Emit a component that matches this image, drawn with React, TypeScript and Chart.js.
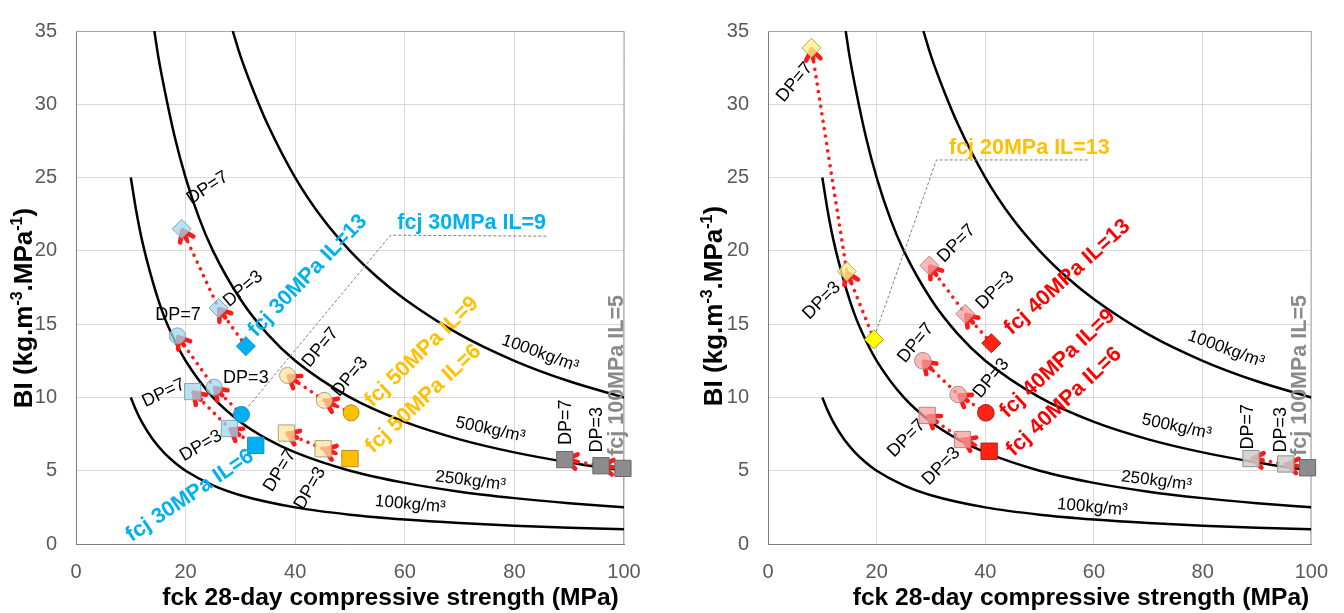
import React, { useEffect, useRef } from "react";
import { Chart, registerables } from "chart.js";

Chart.register(...registerables);

const FONT = '"Liberation Sans", Arial, Helvetica, sans-serif';

// ---------- axes ----------
const xTickValues = [0, 20, 40, 60, 80, 100];
const yTickValues = [0, 5, 10, 15, 20, 25, 30, 35];
const xTitle = "fck 28-day compressive strength (MPa)";

// ---------- iso-density curves (BI vs fck) ----------
const densityLabels = ["1000kg/m³", "500kg/m³", "250kg/m³", "100kg/m³"];
const iso1000X = [28.6, 30, 32.5, 35, 40, 45, 50, 55, 60, 70, 80, 90, 100];
const iso1000Y = [35, 33.3, 30.8, 28.6, 25, 22.2, 20, 18.2, 16.7, 14.3, 12.5, 11.1, 10];
const iso500X = [14.3, 15, 16, 18, 20, 22.5, 25, 30, 35, 40, 50, 60, 70, 80, 90, 100];
const iso500Y = [35, 33.3, 31.3, 27.8, 25, 22.2, 20, 16.7, 14.3, 12.5, 10, 8.33, 7.14, 6.25, 5.56, 5];
const iso250X = [10, 11, 12, 14, 16, 18, 20, 25, 30, 35, 40, 50, 60, 70, 80, 90, 100];
const iso250Y = [25, 22.7, 20.8, 17.9, 15.6, 13.9, 12.5, 10, 8.33, 7.14, 6.25, 5, 4.17, 3.57, 3.13, 2.78, 2.5];
const iso100X = [10, 11, 12, 14, 16, 18, 20, 25, 30, 40, 50, 60, 70, 80, 90, 100];
const iso100Y = [10, 9.09, 8.33, 7.14, 6.25, 5.56, 5, 4, 3.33, 2.5, 2, 1.67, 1.43, 1.25, 1.11, 1];

// ---------- left panel series: [base, DP=3, DP=7] ----------
const L30_IL13_X = [31.0, 26.0, 19.3];
const L30_IL13_Y = [13.5, 16.1, 21.5];
const L30_IL9_X = [30.2, 25.2, 18.5];
const L30_IL9_Y = [8.84, 10.7, 14.2];
const L30_IL6_X = [32.8, 28.0, 21.3];
const L30_IL6_Y = [6.73, 7.88, 10.4];
const L50_IL9_X = [50.2, 45.3, 38.6];
const L50_IL9_Y = [8.95, 9.8, 11.5];
const L50_IL6_X = [50.0, 45.1, 38.4];
const L50_IL6_Y = [5.83, 6.5, 7.57];
const L100_IL5_X = [99.8, 95.8, 89.2];
const L100_IL5_Y = [5.16, 5.34, 5.76];

// ---------- right panel series: [base, DP=3, DP=7] ----------
const R20_IL13_X = [19.5, 14.5, 8.0];
const R20_IL13_Y = [13.96, 18.6, 33.85];
const R40_IL13_X = [41.1, 36.3, 29.7];
const R40_IL13_Y = [13.7, 15.7, 19.0];
const R40_IL9_X = [40.1, 35.0, 28.5];
const R40_IL9_Y = [8.95, 10.2, 12.5];
const R40_IL6_X = [40.7, 35.8, 29.3];
const R40_IL6_Y = [6.33, 7.13, 8.77];
const R100_IL5_X = [99.3, 95.3, 88.9];
const R100_IL5_Y = [5.2, 5.46, 5.83];

// ---------- styles ----------
const BLUE = "#00b0f0";
const YEL = "#ffc000";
const RED = "#ff0000";
const GRAY = "#8a8a8a";

type Group = {
  x: number[];
  y: number[];
  style: string;
  r: number;
  solid: string;
  solidBorder: string;
  light: string;
  lightBorder: string;
};

type Label = { t: string; x: number; y: number; r: number; color?: string; size?: number; bold?: boolean };

const blueD = { solid: BLUE, solidBorder: "#1590c0", light: "rgba(160,215,240,0.75)", lightBorder: "#8aa4b4" };
const yelD = { solid: YEL, solidBorder: "#b08a2a", light: "rgba(255,228,160,0.75)", lightBorder: "#b0a080" };
const redD = { solid: "#ff2314", solidBorder: "#c01010", light: "rgba(246,160,160,0.75)", lightBorder: "#b08888" };
const grayDark = { solid: "#8c8c8c", solidBorder: "#666666", light: "#8c8c8c", lightBorder: "#666666" };
const grayLight = { solid: "#8c8c8c", solidBorder: "#666666", light: "rgba(205,205,205,0.85)", lightBorder: "#909090" };
const yel20 = { solid: "#ffff00", solidBorder: "#a0a020", light: "rgba(255,240,140,0.8)", lightBorder: "#b0a860" };

const leftGroups: Group[] = [
  { x: L30_IL13_X, y: L30_IL13_Y, style: "rectRot", r: 9.5, ...blueD },
  { x: L30_IL9_X, y: L30_IL9_Y, style: "circle", r: 8, ...blueD },
  { x: L30_IL6_X, y: L30_IL6_Y, style: "rect", r: 11.5, ...blueD },
  { x: L50_IL9_X, y: L50_IL9_Y, style: "circle", r: 8, ...yelD },
  { x: L50_IL6_X, y: L50_IL6_Y, style: "rect", r: 11.5, ...yelD },
  { x: L100_IL5_X, y: L100_IL5_Y, style: "rect", r: 11.5, ...grayDark },
];

const rightGroups: Group[] = [
  { x: R20_IL13_X, y: R20_IL13_Y, style: "rectRot", r: 9.5, ...yel20 },
  { x: R40_IL13_X, y: R40_IL13_Y, style: "rectRot", r: 9.5, ...redD },
  { x: R40_IL9_X, y: R40_IL9_Y, style: "circle", r: 8.3, ...redD },
  { x: R40_IL6_X, y: R40_IL6_Y, style: "rect", r: 11.5, ...redD },
  { x: R100_IL5_X, y: R100_IL5_Y, style: "rect", r: 11.5, ...grayLight },
];

const leftLabels: Label[] = [
  { t: "DP=7", x: 24.0, y: 24.3, r: -33 },
  { t: "DP=3", x: 30.5, y: 17.4, r: -40 },
  { t: "DP=7", x: 18.6, y: 15.6, r: 0 },
  { t: "DP=3", x: 31.0, y: 11.3, r: 0 },
  { t: "DP=7", x: 16.0, y: 10.3, r: -25 },
  { t: "DP=3", x: 22.8, y: 6.7, r: -30 },
  { t: "DP=7", x: 44.6, y: 13.4, r: -50 },
  { t: "DP=3", x: 50.0, y: 11.4, r: -50 },
  { t: "DP=7", x: 37.2, y: 5.0, r: -58 },
  { t: "DP=3", x: 42.7, y: 3.8, r: -60 },
  { t: "DP=7", x: 89.5, y: 8.3, r: -90 },
  { t: "DP=3", x: 95.0, y: 7.8, r: -90 },
  { t: densityLabels[0], x: 84.7, y: 13.0, r: 20, size: 17 },
  { t: densityLabels[1], x: 75.6, y: 7.8, r: 12, size: 17 },
  { t: densityLabels[2], x: 72.0, y: 4.3, r: 7, size: 17 },
  { t: densityLabels[3], x: 61.0, y: 2.7, r: 5, size: 17 },
  { t: "fcj 30MPa IL=13", x: 42.3, y: 18.3, r: -46, color: BLUE, bold: true, size: 21.5 },
  { t: "fcj 30MPa IL=9", x: 72.2, y: 21.9, r: 0, color: BLUE, bold: true, size: 21.5 },
  { t: "fcj 30MPa IL=6", x: 20.8, y: 3.3, r: -34, color: BLUE, bold: true, size: 21.5 },
  { t: "fcj 50MPa IL=9", x: 63.1, y: 13.1, r: -44, color: YEL, bold: true, size: 21.5 },
  { t: "fcj 50MPa IL=6", x: 63.4, y: 9.9, r: -43, color: YEL, bold: true, size: 21.5 },
  { t: "fcj 100MPa IL=5", x: 98.7, y: 11.5, r: -90, color: GRAY, bold: true, size: 21.5 },
];

const rightLabels: Label[] = [
  { t: "DP=7", x: 4.9, y: 31.5, r: -50 },
  { t: "DP=3", x: 9.9, y: 16.6, r: -45 },
  { t: "DP=7", x: 34.7, y: 20.5, r: -45 },
  { t: "DP=3", x: 41.8, y: 17.3, r: -45 },
  { t: "DP=7", x: 27.2, y: 13.7, r: -50 },
  { t: "DP=3", x: 41.1, y: 11.3, r: -50 },
  { t: "DP=7", x: 25.5, y: 7.2, r: -45 },
  { t: "DP=3", x: 31.9, y: 5.3, r: -45 },
  { t: "DP=7", x: 88.3, y: 8.0, r: -90 },
  { t: "DP=3", x: 94.5, y: 7.8, r: -90 },
  { t: densityLabels[0], x: 84.3, y: 13.3, r: 20, size: 17 },
  { t: densityLabels[1], x: 75.2, y: 8.0, r: 12, size: 17 },
  { t: densityLabels[2], x: 71.5, y: 4.3, r: 7, size: 17 },
  { t: densityLabels[3], x: 59.7, y: 2.5, r: 5, size: 17 },
  { t: "fcj 20MPa IL=13", x: 48.1, y: 27.0, r: 0, color: YEL, bold: true, size: 21.5 },
  { t: "fcj 40MPa IL=13", x: 55.1, y: 18.2, r: -42, color: RED, bold: true, size: 21.5 },
  { t: "fcj 40MPa IL=9", x: 53.3, y: 12.3, r: -43, color: RED, bold: true, size: 21.5 },
  { t: "fcj 40MPa IL=6", x: 54.5, y: 9.7, r: -43, color: RED, bold: true, size: 21.5 },
  { t: "fcj 100MPa IL=5", x: 98.0, y: 11.5, r: -90, color: GRAY, bold: true, size: 21.5 },
];

const leftLeaderX = [31.5, 57.4, 86.0];
const leftLeaderY = [9.4, 21.07, 21.0];
const rightLeaderX = [19.9, 31.0, 59.1];
const rightLeaderY = [14.5, 26.2, 26.2];

// ---------- drawing helpers ----------
function drawArrows(chart: any, groups: Group[]) {
  const ctx: CanvasRenderingContext2D = chart.ctx;
  const xs = chart.scales.x;
  const ys = chart.scales.y;
  ctx.save();
  ctx.strokeStyle = "#ff1a1a";
  ctx.lineWidth = 4.6;
  ctx.lineCap = "round";
  ctx.lineJoin = "round";
  for (const g of groups) {
    for (let i = 1; i < g.x.length; i++) {
      const x0 = xs.getPixelForValue(g.x[i - 1]);
      const y0 = ys.getPixelForValue(g.y[i - 1]);
      const x1 = xs.getPixelForValue(g.x[i]);
      const y1 = ys.getPixelForValue(g.y[i]);
      let dx = x1 - x0;
      let dy = y1 - y0;
      const L = Math.hypot(dx, dy) || 1;
      dx /= L;
      dy /= L;
      const tx = x1 - dx * 1.5;
      const ty = y1 - dy * 1.5;
      const vx = -dx;
      const vy = -dy;
      const a = 0.62;
      const len = 12.5;
      const c = Math.cos(a);
      const s = Math.sin(a);
      const a1x = tx + (vx * c - vy * s) * len;
      const a1y = ty + (vx * s + vy * c) * len;
      const a2x = tx + (vx * c + vy * s) * len;
      const a2y = ty + (-vx * s + vy * c) * len;
      ctx.beginPath();
      ctx.moveTo(a1x, a1y);
      ctx.lineTo(tx, ty);
      ctx.lineTo(a2x, a2y);
      ctx.moveTo(tx, ty);
      ctx.lineTo(tx + vx * 10, ty + vy * 10);
      ctx.stroke();
    }
  }
  ctx.restore();
}

function drawLabels(chart: any, labels: Label[]) {
  const ctx: CanvasRenderingContext2D = chart.ctx;
  const xs = chart.scales.x;
  const ys = chart.scales.y;
  for (const l of labels) {
    const px = xs.getPixelForValue(l.x);
    const py = ys.getPixelForValue(l.y);
    ctx.save();
    ctx.translate(px, py);
    ctx.rotate((l.r * Math.PI) / 180);
    ctx.font = `${l.bold ? "bold " : ""}${l.size || 18}px ${FONT}`;
    ctx.fillStyle = l.color || "#000000";
    ctx.textAlign = "center";
    ctx.textBaseline = "middle";
    ctx.fillText(l.t, 0, 0);
    ctx.restore();
  }
}

function drawLeader(chart: any, lx: number[], ly: number[]) {
  const ctx: CanvasRenderingContext2D = chart.ctx;
  const xs = chart.scales.x;
  const ys = chart.scales.y;
  ctx.save();
  ctx.strokeStyle = "#7f7f7f";
  ctx.lineWidth = 1;
  ctx.setLineDash([3, 2]);
  ctx.beginPath();
  lx.forEach((x, i) => {
    const px = xs.getPixelForValue(x);
    const py = ys.getPixelForValue(ly[i]);
    if (i === 0) ctx.moveTo(px, py);
    else ctx.lineTo(px, py);
  });
  ctx.stroke();
  ctx.restore();
}

function drawYTitle(ctx: CanvasRenderingContext2D, cx: number, cy: number) {
  const big = `bold 26px ${FONT}`;
  const small = `bold 16px ${FONT}`;
  const parts: [string, boolean][] = [
    ["BI (kg.m", false],
    ["-3", true],
    [".MPa", false],
    ["-1", true],
    [")", false],
  ];
  ctx.save();
  let total = 0;
  const widths = parts.map(([t, sup]) => {
    ctx.font = sup ? small : big;
    const w = ctx.measureText(t).width;
    total += w;
    return w;
  });
  ctx.translate(cx, cy);
  ctx.rotate(-Math.PI / 2);
  ctx.fillStyle = "#000000";
  ctx.textAlign = "left";
  ctx.textBaseline = "alphabetic";
  let pos = -total / 2;
  parts.forEach(([t, sup], i) => {
    ctx.font = sup ? small : big;
    ctx.fillText(t, pos, sup ? -10 : 0);
    pos += widths[i];
  });
  ctx.restore();
}

type PanelCfg = {
  groups: Group[];
  labels: Label[];
  leaderX: number[];
  leaderY: number[];
  yAxisWidth: number;
  padRight: number;
  xTitleCx: number;
  yTitleCx: number;
  yTitleCy: number;
};

function buildChart(canvas: HTMLCanvasElement, cfg: PanelCfg) {
  const curves = [
    [iso1000X, iso1000Y],
    [iso500X, iso500Y],
    [iso250X, iso250Y],
    [iso100X, iso100Y],
  ];
  const markerSets = cfg.groups.map((g) => ({
    data: g.x.map((x, i) => ({ x, y: g.y[i] })),
    showLine: true,
    borderColor: "#ff1a1a",
    borderWidth: 3.6,
    borderDash: [0.01, 7.5],
    borderCapStyle: "round",
    pointStyle: g.style,
    pointRadius: g.r,
    pointHoverRadius: g.r,
    pointBackgroundColor: g.x.map((_, i) => (i === 0 ? g.solid : g.light)),
    pointBorderColor: g.x.map((_, i) => (i === 0 ? g.solidBorder : g.lightBorder)),
    pointBorderWidth: 1,
    clip: false,
  }));
  const curveSets = curves.map(([cx, cy]) => ({
    data: cx.map((x, i) => ({ x, y: cy[i] })),
    showLine: true,
    borderColor: "#000000",
    borderWidth: 2.5,
    pointRadius: 0,
    pointHoverRadius: 0,
    cubicInterpolationMode: "monotone",
  }));
  const nMarkers = markerSets.length;

  const overlay = {
    id: "overlay",
    beforeDatasetsDraw(chart: any) {
      const ctx: CanvasRenderingContext2D = chart.ctx;
      const a = chart.chartArea;
      ctx.save();
      ctx.strokeStyle = "#a6a6a6";
      ctx.lineWidth = 1;
      ctx.beginPath();
      ctx.moveTo(a.left, a.top + 0.5);
      ctx.lineTo(a.right, a.top + 0.5);
      ctx.lineTo(a.right - 0.5, a.bottom);
      ctx.stroke();
      ctx.restore();
    },
    afterDatasetDraw(chart: any, args: any) {
      if (args.index === nMarkers) drawArrows(chart, cfg.groups);
    },
    afterDatasetsDraw(chart: any) {
      drawLeader(chart, cfg.leaderX, cfg.leaderY);
      drawLabels(chart, cfg.labels);
    },
    afterDraw(chart: any) {
      const ctx: CanvasRenderingContext2D = chart.ctx;
      ctx.save();
      ctx.font = `bold 24.6px ${FONT}`;
      ctx.fillStyle = "#000000";
      ctx.textAlign = "center";
      ctx.textBaseline = "alphabetic";
      ctx.fillText(xTitle, cfg.xTitleCx, 605);
      ctx.restore();
      drawYTitle(ctx, cfg.yTitleCx, cfg.yTitleCy);
    },
  };

  return new Chart(canvas, {
    type: "scatter",
    data: { datasets: [...markerSets, ...curveSets] as any },
    options: {
      responsive: false,
      animation: false,
      devicePixelRatio: 1,
      layout: { padding: { top: 20, right: cfg.padRight, left: 0, bottom: 0 } },
      plugins: { legend: { display: false }, tooltip: { enabled: false } },
      events: [],
      scales: {
        x: {
          type: "linear",
          min: 0,
          max: 100,
          afterBuildTicks: (s: any) => {
            s.ticks = xTickValues.map((v) => ({ value: v }));
          },
          afterFit: (s: any) => {
            s.height = 69;
          },
          grid: { color: "#d9d9d9", drawTicks: false },
          border: { color: "#7f7f7f", width: 1 },
          ticks: { padding: 16, color: "#595959", maxRotation: 0, font: { family: FONT, size: 20 } },
        },
        y: {
          type: "linear",
          min: 0,
          max: 35,
          afterBuildTicks: (s: any) => {
            s.ticks = yTickValues.map((v) => ({ value: v }));
          },
          afterFit: (s: any) => {
            s.width = cfg.yAxisWidth;
          },
          grid: { color: "#d9d9d9", drawTicks: false },
          border: { color: "#7f7f7f", width: 1 },
          ticks: { padding: 19, color: "#595959", font: { family: FONT, size: 20 } },
        },
      },
    } as any,
    plugins: [overlay as any],
  });
}

function Panel({ left, cfg }: { left: number; cfg: PanelCfg }) {
  const ref = useRef<HTMLCanvasElement>(null);
  useEffect(() => {
    const chart = buildChart(ref.current!, cfg);
    return () => chart.destroy();
  }, []);
  return (
    <canvas
      ref={ref}
      width={672}
      height={613}
      style={{ position: "absolute", left, top: 0, width: 672, height: 613 }}
    />
  );
}

export default function App() {
  const leftCfg: PanelCfg = {
    groups: leftGroups,
    labels: leftLabels,
    leaderX: leftLeaderX,
    leaderY: leftLeaderY,
    yAxisWidth: 76,
    padRight: 48,
    xTitleCx: 390.5,
    yTitleCx: 32,
    yTitleCy: 308,
  };
  const rightCfg: PanelCfg = {
    groups: rightGroups,
    labels: rightLabels,
    leaderX: rightLeaderX,
    leaderY: rightLeaderY,
    yAxisWidth: 96,
    padRight: 28,
    xTitleCx: 409,
    yTitleCx: 50,
    yTitleCy: 306,
  };
  return (
    <div style={{ position: "fixed", left: 0, top: 0, width: 1344, height: 613, background: "#ffffff" }}>
      <Panel left={0} cfg={leftCfg} />
      <Panel left={672} cfg={rightCfg} />
    </div>
  );
}
